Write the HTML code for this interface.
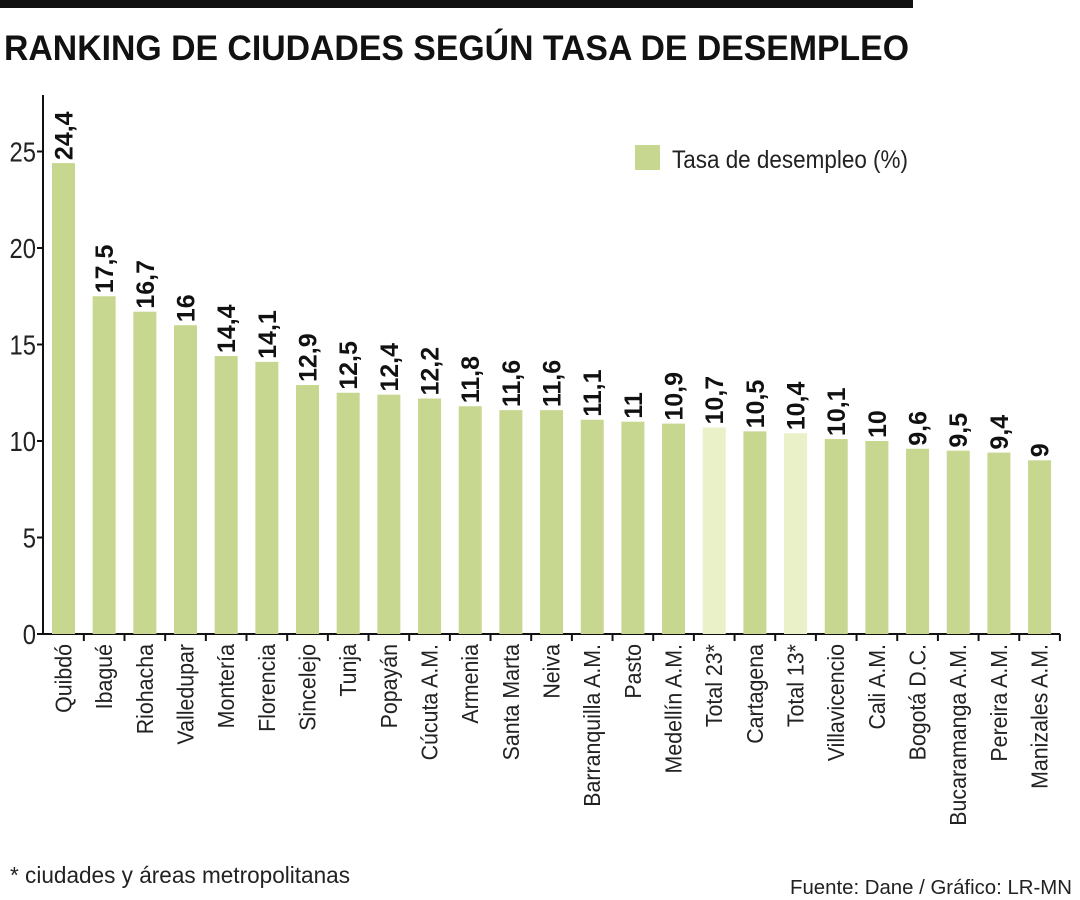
<!DOCTYPE html>
<html><head><meta charset="utf-8"><style>
body{margin:0;background:#fff;}
svg{display:block;font-family:"Liberation Sans Narrow","Liberation Sans",sans-serif;}
</style></head><body>
<svg id="chart" width="1080" height="900">
<rect x="0" y="0" width="913" height="8" fill="#111"/>
<text x="4" y="60" font-size="35" font-weight="bold" fill="#111" textLength="905" lengthAdjust="spacingAndGlyphs">RANKING DE CIUDADES SEGÚN TASA DE DESEMPLEO</text>
<g id="plot"></g>
<rect x="635" y="145" width="25" height="25" fill="#c8d78f"/>
<text x="672" y="168" font-size="25" fill="#222" textLength="236" lengthAdjust="spacingAndGlyphs">Tasa de desempleo (%)</text>
<text x="10" y="883" font-size="23" fill="#222" textLength="340" lengthAdjust="spacingAndGlyphs">* ciudades y áreas metropolitanas</text>
<text x="1072" y="894" font-size="20" fill="#222" text-anchor="end" textLength="282" lengthAdjust="spacingAndGlyphs">Fuente: Dane / Gráfico: LR-MN</text>
</svg>
<script>
const categories=["Quibdó","Ibagué","Riohacha","Valledupar","Montería","Florencia","Sincelejo","Tunja","Popayán","Cúcuta A.M.","Armenia","Santa Marta","Neiva","Barranquilla A.M.","Pasto","Medellín A.M.","Total 23*","Cartagena","Total 13*","Villavicencio","Cali A.M.","Bogotá D.C.","Bucaramanga A.M.","Pereira A.M.","Manizales A.M."];
const values=[24.4,17.5,16.7,16,14.4,14.1,12.9,12.5,12.4,12.2,11.8,11.6,11.6,11.1,11,10.9,10.7,10.5,10.4,10.1,10,9.6,9.5,9.4,9];
const valueLabels=["24,4","17,5","16,7","16","14,4","14,1","12,9","12,5","12,4","12,2","11,8","11,6","11,6","11,1","11","10,9","10,7","10,5","10,4","10,1","10","9,6","9,5","9,4","9"];
const highlighted=["Total 23*","Total 13*"];
const yTicks=[0,5,10,15,20,25];
const NS="http://www.w3.org/2000/svg";
const g=document.getElementById('plot');
const x0=43,y0=634,yTop=95,step=40.67,bw=23;
const yScale=v=>y0-v*19.3;
const xCenter=i=>x0+20.5+i*step;
function mk(t,a){const e=document.createElementNS(NS,t);for(const k in a)e.setAttribute(k,a[k]);g.appendChild(e);return e;}
let ax=mk('line',{x1:x0,y1:yTop,x2:x0,y2:y0+1,stroke:'#111','stroke-width':2});


let bx=mk('line',{x1:x0,y1:y0,x2:1060,y2:y0,stroke:'#111','stroke-width':2});


yTicks.forEach(t=>{
 const y=yScale(t);
 let l=mk('line',{x1:x0-6,y1:y,x2:x0,y2:y,stroke:'#111','stroke-width':2});
 
 
 let tx=mk('text',{x:0,y:0,'font-size':28,'text-anchor':'end',fill:'#222',transform:`translate(${x0-7},${y+10}) scale(0.85,1)`});
 tx.textContent=t;
 
 
});
categories.forEach((c,i)=>{
 const cx=xCenter(i),v=values[i],y=yScale(v);
 let r=mk('rect',{x:cx-bw/2,y:y,width:bw,height:y0-y,fill:highlighted.includes(c)?'#eaf0c8':'#c8d78f'});
 
 
 let t=mk('line',{x1:cx+step/2,y1:y0,x2:cx+step/2,y2:y0+7,stroke:'#111','stroke-width':2});
 
 
 let vl=mk('text',{x:0,y:0,'font-size':25,'font-weight':'bold',fill:'#111',transform:`translate(${cx+9},${y-3}) rotate(-90)`});
 vl.textContent=valueLabels[i];
 
 
 let cl=mk('text',{x:0,y:0,'font-size':23,'text-anchor':'end',fill:'#222',transform:`translate(${cx+8},${y0+10}) rotate(-90) scale(0.93,1)`});
 cl.textContent=c;
 
 
});
</script>
</body></html>
